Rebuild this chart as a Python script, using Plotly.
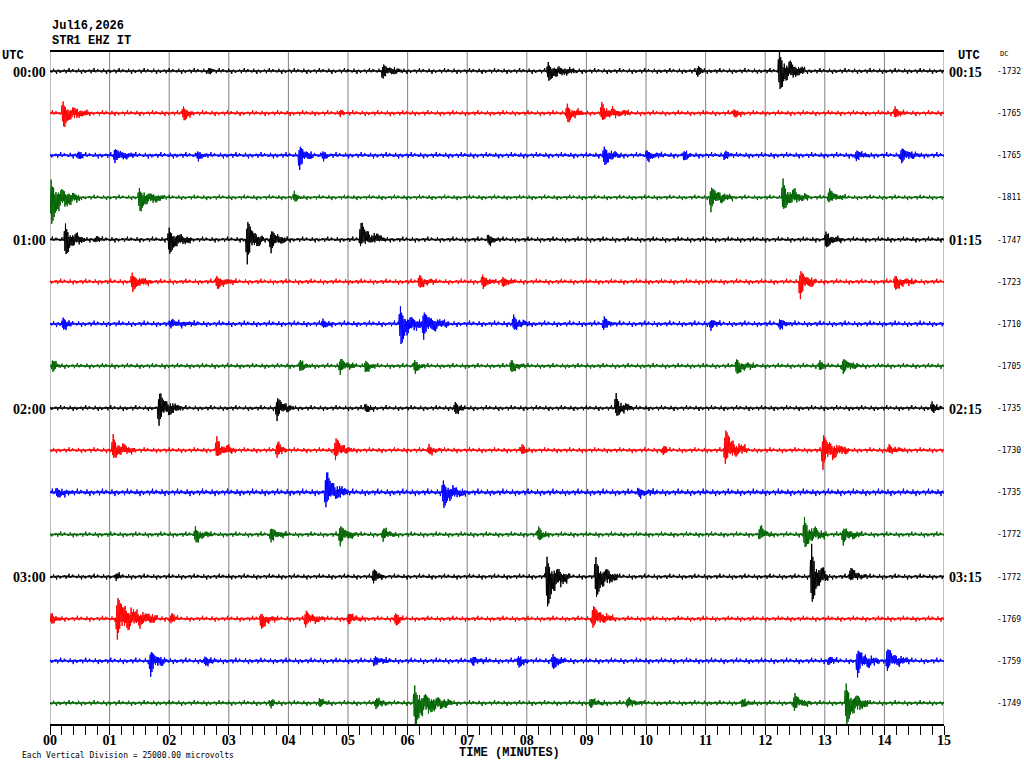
import numpy as np
import plotly.graph_objects as go

# ---------------- data read from the helicorder ----------------
MINUTES = 15
TICK_VALUES = list(range(16))
TICK_LABELS = ["00", "01", "02", "03", "04", "05", "06", "07",
               "08", "09", "10", "11", "12", "13", "14", "15"]
LEFT_LABELS = {0: "00:00", 4: "01:00", 8: "02:00", 12: "03:00"}
RIGHT_LABELS = {0: "00:15", 4: "01:15", 8: "02:15", 12: "03:15"}
DC_VALUES = [-1732, -1765, -1765, -1811, -1747, -1723, -1710, -1705,
             -1735, -1730, -1735, -1772, -1772, -1769, -1759, -1749]
TRACE_COLORS = ["#000000", "#ff0000", "#0000ff", "#006400"]
NOISE_LEVEL = [1.1, 1.1, 1.2, 1.0, 1.1, 1.1, 1.2, 1.1,
               1.1, 1.1, 1.4, 1.1, 1.1, 1.1, 1.2, 1.1]

# events per row: (onset minute, upward peak px, downward peak px, duration minutes)
ROW_00 = [(2.65, 2, 2, 0.1), (5.57, 5, 7, 0.35), (8.34, 7, 9, 0.5), (10.85, 3, 5, 0.15),
          (12.22, 22, 17, 0.45)]
ROW_01 = [(0.2, 11, 12, 0.45), (2.22, 6, 6, 0.2), (4.85, 2, 1, 0.1), (8.66, 8, 8, 0.3),
          (9.24, 10, 6, 0.5), (11.46, 3, 3, 0.2), (14.16, 6, 3, 0.2)]
ROW_02 = [(0.46, 3, 3, 0.1), (1.07, 5, 7, 0.35), (2.46, 3, 3, 0.2), (4.17, 7, 14, 0.25),
          (4.56, 3, 3, 0.15), (9.28, 8, 9, 0.3), (10.0, 4, 4, 0.3), (10.62, 3, 4, 0.15),
          (11.31, 3, 3, 0.15), (13.51, 3, 5, 0.25), (14.27, 6, 7, 0.35)]
ROW_03 = [(0.0, 17, 25, 0.5), (1.48, 8, 13, 0.45), (4.08, 4, 3, 0.15), (11.07, 9, 13, 0.4),
          (12.28, 18, 11, 0.45), (13.05, 7, 4, 0.3)]
ROW_04 = [(0.24, 15, 14, 0.35), (0.75, 2, 2, 0.15), (1.98, 11, 13, 0.4), (3.29, 16, 24, 0.3),
          (3.69, 7, 13, 0.3), (5.19, 16, 5, 0.45), (7.34, 4, 4, 0.2), (13.0, 7, 7, 0.3)]
ROW_05 = [(1.36, 8, 8, 0.35), (2.78, 5, 6, 0.35), (6.18, 6, 5, 0.3), (7.24, 6, 5, 0.25),
          (7.58, 4, 4, 0.25), (12.57, 9, 17, 0.3), (14.16, 5, 7, 0.4)]
ROW_06 = [(0.2, 5, 5, 0.2), (2.01, 3, 3, 0.5), (4.56, 3, 3, 0.2), (5.86, 17, 19, 0.4),
          (6.25, 10, 15, 0.45), (7.76, 8, 5, 0.3), (9.27, 5, 5, 0.2), (11.07, 3, 5, 0.2),
          (12.23, 3, 5, 0.2)]
ROW_07 = [(0.03, 4, 5, 0.15), (4.18, 5, 4, 0.2), (4.85, 6, 6, 0.3), (5.28, 4, 5, 0.2),
          (6.1, 5, 5, 0.2), (7.72, 5, 5, 0.25), (11.5, 6, 7, 0.35), (12.9, 5, 3, 0.15),
          (13.29, 6, 7, 0.3)]
ROW_08 = [(1.81, 13, 17, 0.4), (3.79, 9, 11, 0.3), (5.28, 3, 3, 0.2), (6.78, 5, 5, 0.2),
          (9.48, 14, 7, 0.3), (14.78, 5, 3, 0.2)]
ROW_09 = [(1.04, 15, 7, 0.4), (2.78, 13, 5, 0.35), (3.79, 7, 6, 0.2), (4.77, 11, 8, 0.3),
          (6.34, 4, 3, 0.25), (7.9, 5, 3, 0.15), (10.27, 3, 4, 0.1), (11.31, 19, 13, 0.4),
          (12.95, 13, 19, 0.45), (14.06, 5, 2, 0.3)]
ROW_10 = [(0.1, 3, 4, 0.3), (4.61, 18, 14, 0.4), (6.58, 11, 13, 0.4), (9.86, 3, 3, 0.35)]
ROW_11 = [(2.42, 6, 7, 0.3), (3.69, 5, 7, 0.3), (4.85, 7, 11, 0.3), (5.57, 5, 5, 0.25),
          (8.18, 7, 5, 0.2), (11.89, 7, 4, 0.25), (12.64, 17, 12, 0.4), (13.29, 5, 10, 0.35)]
ROW_12 = [(1.09, 2, 2, 0.15), (5.41, 6, 6, 0.2), (8.32, 19, 29, 0.4), (9.14, 19, 19, 0.4),
          (12.76, 32, 24, 0.3), (13.41, 8, 3, 0.3)]
ROW_13 = [(0.0, 4, 4, 0.2), (1.11, 20, 20, 0.7), (2.01, 4, 4, 0.15), (3.52, 4, 9, 0.3),
          (4.27, 6, 8, 0.35), (4.99, 4, 5, 0.3), (5.78, 5, 6, 0.15), (9.09, 12, 8, 0.4)]
ROW_14 = [(1.67, 8, 15, 0.3), (2.58, 3, 4, 0.25), (5.43, 3, 4, 0.3), (7.07, 3, 3, 0.3),
          (7.84, 4, 5, 0.2), (8.42, 6, 7, 0.25), (13.05, 3, 3, 0.2), (13.53, 9, 16, 0.4),
          (14.03, 11, 9, 0.4)]
ROW_15 = [(3.69, 2, 4, 0.1), (4.51, 3, 3, 0.2), (5.45, 4, 5, 0.25), (6.1, 16, 21, 0.65),
          (9.05, 3, 4, 0.3), (9.67, 4, 3, 0.3), (11.6, 3, 3, 0.25), (12.47, 7, 7, 0.3),
          (13.34, 19, 20, 0.4)]
TRACE_EVENTS = [ROW_00, ROW_01, ROW_02, ROW_03, ROW_04, ROW_05, ROW_06, ROW_07,
                ROW_08, ROW_09, ROW_10, ROW_11, ROW_12, ROW_13, ROW_14, ROW_15]

# wiggle look (relative envelope values read from typical events / background)
HEAD = [0.5, 0.6, 1.0, 1.0, 0.6, 0.9, 0.45, 0.75]
CODA = [0.85, 0.7, 0.6, 0.52, 0.46, 0.4, 0.35, 0.3, 0.25, 0.2, 0.16, 0.12]
JITTER = [1.0, 0.5, 0.9, 0.3, 0.7, 1.0, 0.35, 0.6, 0.2, 0.95,
          0.45, 0.7, 0.2, 0.85, 0.4, 1.0, 0.3, 0.55, 0.8, 0.25]
BG_PATTERN = [0.6, 1.0, 0.7, 1.4, 0.5, 0.9, 2.1, 0.8, 0.6, 1.1, 0.7,
              2.7, 0.9, 0.5, 1.3, 0.8, 0.6, 1.8, 0.7, 1.0, 0.5]

STEP = 0.01          # minutes per sample
ROW_SPACING = 42.13  # vertical units between rows (1 unit = 1 px)

# ---------------- figure ----------------
W, H = 1024, 768
L, R, T, B = 50, 80, 51, 44
PW, PH = W - L - R, H - T - B


def px(x):
    return (x - L) / PW


def py(y):
    return (H - B - y) / PH


fig = go.Figure()

t = np.arange(0, MINUTES + STEP / 2, STEP)
n = len(t)
idx = np.arange(n)
alt = np.where(idx % 2 == 0, 1.0, -1.0)
bgp = np.array(BG_PATTERN)

for i, events in enumerate(TRACE_EVENTS):
    base = -i * ROW_SPACING
    y = alt * bgp[(idx + 7 * i) % len(bgp)] * NOISE_LEVEL[i]
    for (t0, up, down, dur) in events:
        s0 = int(round(t0 / STEP))
        s1 = min(n, s0 + int(round(dur / STEP)))
        length = max(1, s1 - s0)
        for s in range(s0, s1):
            k = s - s0
            if k < len(HEAD):
                env = HEAD[k]
            else:
                env = CODA[min(len(CODA) - 1, int(k / length * len(CODA)))] * JITTER[k % len(JITTER)]
            sgn = 1 if (s % 2 == 0) else -1
            y[s] += env * (up if sgn > 0 else -down)
    fig.add_trace(go.Scatter(
        x=t, y=base + y, mode="lines",
        line=dict(color=TRACE_COLORS[i % 4], width=1, simplify=False),
        hoverinfo="skip", showlegend=False))

# minute grid lines
shapes = []
for m in TICK_VALUES:
    shapes.append(dict(type="line", xref="x", yref="paper", x0=m, x1=m, y0=0, y1=1,
                       line=dict(color="#808080", width=1), layer="below"))
shapes.append(dict(type="line", xref="paper", yref="paper", x0=0, x1=1, y0=1, y1=1,
                   line=dict(color="#000000", width=2)))

ann = []
mono = "Liberation Mono"
serif = "Liberation Serif"
ann.append(dict(text="<b>Jul16,2026</b>", xref="paper", yref="paper", x=px(50), y=py(26),
                xanchor="left", yanchor="middle", showarrow=False,
                font=dict(family=mono, size=12, color="black")))
ann.append(dict(text="<b>STR1 EHZ IT</b>", xref="paper", yref="paper", x=px(50), y=py(41),
                xanchor="left", yanchor="middle", showarrow=False,
                font=dict(family=mono, size=12, color="black")))
ann.append(dict(text="<b>UTC</b>", xref="paper", yref="paper", x=px(0), y=py(56),
                xanchor="left", yanchor="middle", showarrow=False,
                font=dict(family=mono, size=12, color="black")))
ann.append(dict(text="<b>UTC</b>", xref="paper", yref="paper", x=px(969), y=py(56),
                xanchor="center", yanchor="middle", showarrow=False,
                font=dict(family=mono, size=12, color="black")))
ann.append(dict(text="DC", xref="paper", yref="paper", x=px(1004), y=py(54),
                xanchor="center", yanchor="middle", showarrow=False,
                font=dict(family="DejaVu Sans Mono", size=7, color="black")))
for i in range(16):
    yv = -i * ROW_SPACING
    if i in LEFT_LABELS:
        ann.append(dict(text="<b>%s</b>" % LEFT_LABELS[i], xref="paper", yref="y",
                        x=px(48), y=yv - 1, xanchor="right", yanchor="middle", showarrow=False,
                        font=dict(family=serif, size=14, color="black")))
    if i in RIGHT_LABELS:
        ann.append(dict(text="<b>%s</b>" % RIGHT_LABELS[i], xref="paper", yref="y",
                        x=px(947), y=yv - 1, xanchor="left", yanchor="middle", showarrow=False,
                        font=dict(family=serif, size=14, color="black")))
    ann.append(dict(text=str(DC_VALUES[i]), xref="paper", yref="y",
                    x=px(995), y=yv - 0.5, xanchor="left", yanchor="middle", showarrow=False,
                    font=dict(family="DejaVu Sans Mono", size=8, color="black")))
ann.append(dict(text="<b>TIME (MINUTES)</b>", xref="paper", yref="paper", x=px(509), y=py(753),
                xanchor="center", yanchor="middle", showarrow=False,
                font=dict(family=mono, size=12, color="black")))
ann.append(dict(text="Each Vertical Division = 25000.00 microvolts", xref="paper", yref="paper",
                x=px(20), y=py(755), xanchor="left", yanchor="middle", showarrow=False,
                font=dict(family="DejaVu Sans Mono", size=8, color="black")))

fig.update_layout(
    width=W, height=H, margin=dict(l=L, r=R, t=T, b=B),
    paper_bgcolor="white", plot_bgcolor="white", showlegend=False,
    shapes=shapes, annotations=ann,
    xaxis=dict(range=[0, MINUTES], tickmode="array", tickvals=TICK_VALUES, ticktext=TICK_LABELS,
               ticks="outside", ticklen=9, tickwidth=1, tickcolor="black",
               ticklabelstandoff=-7,
               showline=True, linecolor="black", linewidth=2, showgrid=False, zeroline=False,
               tickfont=dict(family=serif, size=14, color="black", weight="bold"),
               minor=dict(tickmode="linear", tick0=0, dtick=0.2, ticks="outside", ticklen=9,
                          tickwidth=1, tickcolor="black", showgrid=False),
               fixedrange=True),
    yaxis=dict(range=[-15 * ROW_SPACING - 21, 20], visible=False, fixedrange=True),
)

fig.write_html("out.html")
